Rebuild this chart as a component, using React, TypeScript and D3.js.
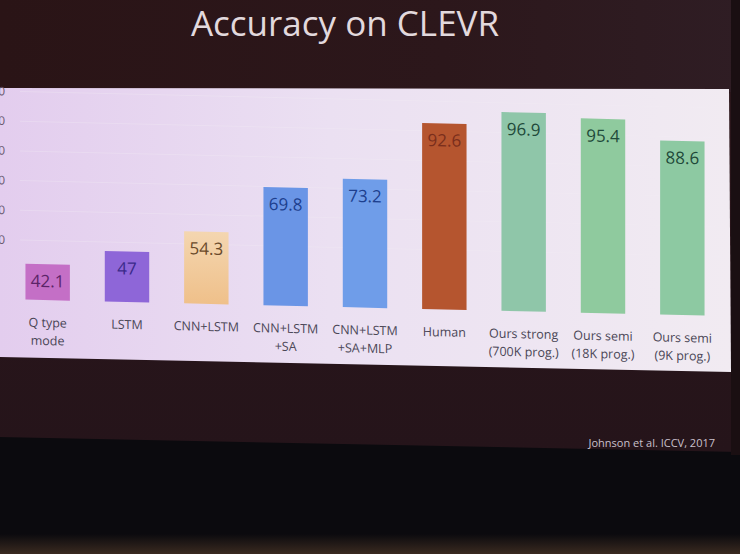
import React from 'react';
import { scaleBand, scaleLinear } from 'd3';

// categories, two lines each where the slide wraps them
const categories = [
  ['Q type', 'mode'],
  ['LSTM'],
  ['CNN+LSTM'],
  ['CNN+LSTM', '+SA'],
  ['CNN+LSTM', '+SA+MLP'],
  ['Human'],
  ['Ours strong', '(700K prog.)'],
  ['Ours semi', '(18K prog.)'],
  ['Ours semi', '(9K prog.)'],
];
const accuracy = [42.1, 47, 54.3, 69.8, 73.2, 92.6, 96.9, 95.4, 88.6];
const valueLabels = ['42.1', '47', '54.3', '69.8', '73.2', '92.6', '96.9', '95.4', '88.6'];
const barColors = ['#c46fc6', '#8e66d8', '#f2c994', '#6a95e6', '#6f9de9', '#b5552f', '#8fc6a9', '#8fca9e', '#8dc9a2'];
const valueColors = ['#5b2468', '#3b2a8a', '#6a4a2a', '#1d3f8e', '#1d3f8e', '#7a2e1c', '#1f4a3a', '#1f4a3a', '#1f4a3a'];
const yTicks = [30, 40, 50, 60, 70, 80, 90, 100];
const title = 'Accuracy on CLEVR';
const citation = 'Johnson et al. ICCV, 2017';

const W = 740;
const H = 554;

export default function App() {
  const x = scaleBand<number>()
    .domain(accuracy.map((_, i) => i))
    .range([8, 722])
    .paddingInner(0.44)
    .paddingOuter(0.22);

  const y = scaleLinear().domain([30, 100]).range([299, 91]);

  const font = '"Open Sans", "DejaVu Sans", sans-serif';

  return (
    <svg width={W} height={H} style={{ position: 'absolute', left: 0, top: 0 }} fontFamily={font}>
      <defs>
        <linearGradient id="topBg" x1="0" x2="1" y1="0" y2="0">
          <stop offset="0" stopColor="#2a1416" />
          <stop offset="0.6" stopColor="#2c171b" />
          <stop offset="1" stopColor="#2f1d24" />
        </linearGradient>
        <linearGradient id="panel" x1="0" x2="1" y1="0" y2="0">
          <stop offset="0" stopColor="#e3cdee" />
          <stop offset="0.45" stopColor="#ebe0f2" />
          <stop offset="1" stopColor="#f1ebf2" />
        </linearGradient>
        <linearGradient id="lower" x1="0" x2="0" y1="0" y2="1">
          <stop offset="0" stopColor="#2d171b" />
          <stop offset="1" stopColor="#25141a" />
        </linearGradient>
        <linearGradient id="peach" x1="0" x2="0" y1="0" y2="1">
          <stop offset="0" stopColor="#f4d6b0" />
          <stop offset="1" stopColor="#efc08a" />
        </linearGradient>
        <linearGradient id="floor" x1="0" x2="0" y1="0" y2="1">
          <stop offset="0" stopColor="#0b0a0e" />
          <stop offset="1" stopColor="#3a2a20" />
        </linearGradient>
      </defs>

      <rect width={W} height={H} fill="#0b0a0e" />
      <rect x={0} y={534} width={W} height={20} fill="url(#floor)" />
      <polygon points="0,0 740,0 740,452 0,437" fill="url(#lower)" />
      <rect width={W} height={92} fill="url(#topBg)" />
      <rect x={731} y={0} width={9} height={455} fill="#1a0f12" />

      <text x={345} y={36} textAnchor="middle" fontSize={35} fill="#e2d9dd">{title}</text>

      <polygon points="0,88 729,89 731,372 0,357" fill="url(#panel)" />

      <g transform="skewY(1.35)">
        {yTicks.filter(t => t >= 50).map(t => (
          <g key={t}>
            <line x1={20} x2={720} y1={y(t)} y2={y(t)} stroke="#f4eef6" strokeWidth={1} opacity={0.3} />
            <text x={5} y={y(t)} dy="0.35em" textAnchor="end" fontSize={12} fill="#6a5a70">{t}</text>
          </g>
        ))}

        {accuracy.map((v, i) => (
          <g key={i}>
            <rect
              x={x(i)}
              y={y(v)}
              width={x.bandwidth()}
              height={y(30) - y(v)}
              fill={i === 2 ? 'url(#peach)' : barColors[i]}
            />
            <text
              x={x(i)! + x.bandwidth() / 2}
              y={y(v) + 17}
              dy="0.35em"
              textAnchor="middle"
              fontSize={17}
              fill={valueColors[i]}
            >
              {valueLabels[i]}
            </text>
            {categories[i].map((line, j) => (
              <text
                key={j}
                x={x(i)! + x.bandwidth() / 2}
                y={y(30) + 27 + j * 18}
                textAnchor="middle"
                fontSize={12.5}
                fill="#4a4656"
              >
                {line}
              </text>
            ))}
          </g>
        ))}
      </g>

      <text x={715} y={447} textAnchor="end" fontSize={11} fill="#c9c0cc">{citation}</text>
    </svg>
  );
}
